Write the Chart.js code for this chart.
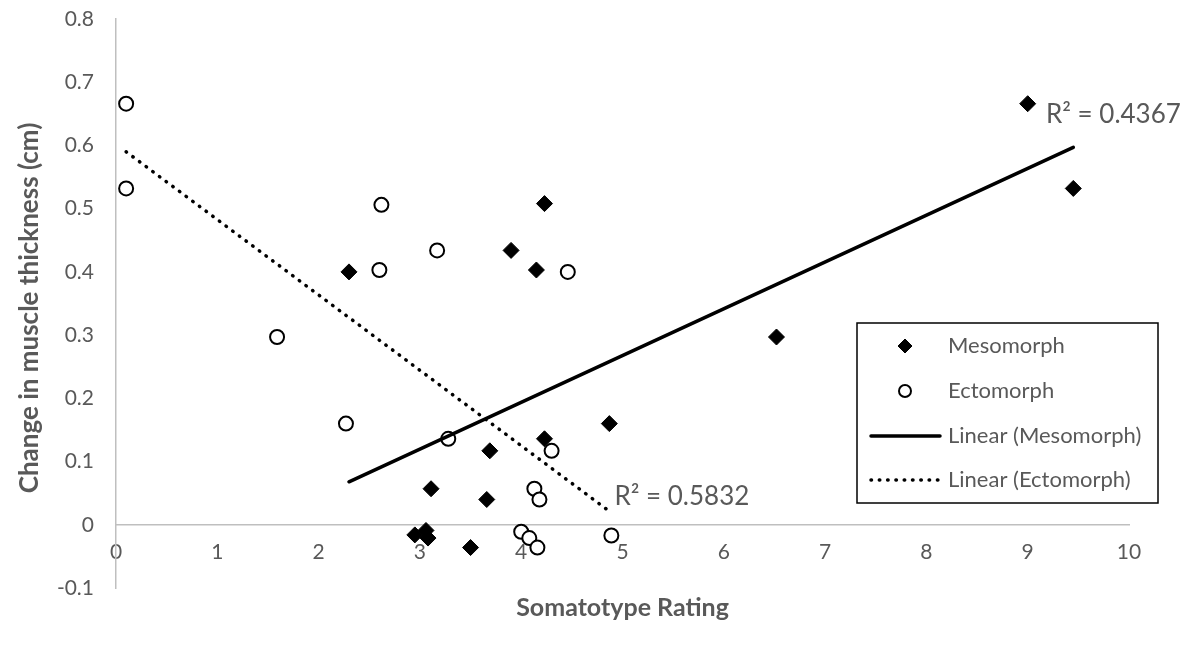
<!DOCTYPE html>
<html>
<head>
<meta charset="utf-8">
<script src="https://cdn.jsdelivr.net/npm/chart.js@4.4.1/dist/chart.umd.min.js"></script>
<style>
  html, body { margin: 0; padding: 0; background: #fff; }
  #wrap { width: 1193px; height: 646px; position: relative; }
</style>
</head>
<body>
<div id="wrap"><canvas id="chart"></canvas></div>
<script>
// values
const mesoX = [2.30, 4.23, 3.90, 4.15, 9.00, 9.45, 6.52, 4.87, 4.23, 3.69, 3.11, 3.66, 2.95, 3.06, 3.08, 3.50];
const mesoY = [0.400, 0.508, 0.434, 0.403, 0.666, 0.532, 0.297, 0.160, 0.136, 0.117, 0.057, 0.040, -0.016, -0.009, -0.021, -0.036];
const ectoX = [0.10, 0.10, 1.59, 2.27, 2.62, 2.60, 3.17, 4.46, 3.28, 4.30, 4.13, 4.18, 4.00, 4.08, 4.16, 4.89];
const ectoY = [0.666, 0.532, 0.297, 0.160, 0.506, 0.403, 0.434, 0.400, 0.136, 0.117, 0.057, 0.040, -0.011, -0.021, -0.036, -0.017];

// trendline end points (as drawn)
const mesoTrendX = [2.30, 9.45];
const mesoTrendY = [0.068, 0.597];
const ectoTrendX = [0.10, 4.89];
const ectoTrendY = [0.590, 0.019];

const seriesLabels = ["Mesomorph", "Ectomorph", "Linear (Mesomorph)", "Linear (Ectomorph)"];
const r2Labels = [
  { text: "R² = 0.4367", x: 9.18, y: 0.649 },
  { text: "R² = 0.5832", x: 4.92, y: 0.044 },
];
const xTitle = "Somatotype Rating";
const yTitle = "Change in muscle thickness (cm)";

const FONT = "Lato, 'Open Sans', sans-serif";
const GREY = "#595959";
const AXIS = "#bfbfbf";

const pts = (xs, ys) => xs.map((x, i) => ({ x, y: ys[i] }));

// titles + R² text
const textPlugin = {
  id: "texts",
  afterDatasetsDraw(chart) {
    const { ctx, chartArea } = chart;
    const sx = chart.scales.x, sy = chart.scales.y;
    ctx.save();
    ctx.fillStyle = GREY;
    ctx.textBaseline = "middle";
    ctx.font = "26px " + FONT;
    ctx.textAlign = "left";
    r2Labels.forEach((r) => {
      ctx.fillText(r.text, sx.getPixelForValue(r.x), sy.getPixelForValue(r.y));
    });

    ctx.font = "bold 25px " + FONT;
    ctx.textAlign = "center";
    ctx.fillText(xTitle, (chartArea.left + chartArea.right) / 2, 608);
    ctx.font = "bold 26px " + FONT;
    ctx.translate(30, 308);
    ctx.rotate(-Math.PI / 2);
    ctx.fillText(yTitle, 0, 0);
    ctx.restore();
  },
};

// boxed legend inside the plot, like the Excel one
const legendPlugin = {
  id: "boxLegend",
  afterDraw(chart) {
    const { ctx } = chart;
    const bx = 857, by = 323, bw = 301, bh = 180;
    const rows = [346, 391, 436, 480];
    ctx.save();
    ctx.fillStyle = "#fff";
    ctx.fillRect(bx, by, bw, bh);
    ctx.strokeStyle = "#000";
    ctx.lineWidth = 1.5;
    ctx.strokeRect(bx, by, bw, bh);

    chart.data.datasets.forEach((ds, i) => {
      const y = rows[i];
      if (ds.showLine) {
        ctx.save();
        ctx.strokeStyle = ds.borderColor;
        ctx.lineWidth = ds.borderWidth;
        ctx.lineCap = ds.borderCapStyle || "butt";
        ctx.setLineDash(ds.borderDash || []);
        ctx.beginPath();
        ctx.moveTo(871, y);
        ctx.lineTo(940, y);
        ctx.stroke();
        ctx.restore();
      } else {
        ctx.fillStyle = ds.backgroundColor;
        ctx.strokeStyle = ds.borderColor;
        ctx.lineWidth = ds.borderWidth;
        ctx.beginPath();
        const r = ds.pointRadius - 1;
        if (ds.pointStyle === "rectRot") {
          ctx.moveTo(905 - r, y); ctx.lineTo(905, y - r); ctx.lineTo(905 + r, y); ctx.lineTo(905, y + r);
          ctx.closePath();
        } else {
          ctx.arc(905, y, r, 0, Math.PI * 2);
        }
        ctx.fill();
        ctx.stroke();
      }
      ctx.fillStyle = GREY;
      ctx.font = "22px " + FONT;
      ctx.textAlign = "left";
      ctx.textBaseline = "middle";
      ctx.fillText(ds.label, 948, y);
    });
    ctx.restore();
  },
};

new Chart(document.getElementById("chart"), {
  type: "scatter",
  data: {
    datasets: [
      {
        label: seriesLabels[0],
        data: pts(mesoX, mesoY),
        pointStyle: "rectRot",
        pointRadius: 8,
        backgroundColor: "#000",
        borderColor: "#000",
        borderWidth: 1,
        order: 3,
      },
      {
        label: seriesLabels[1],
        data: pts(ectoX, ectoY),
        pointStyle: "circle",
        pointRadius: 7,
        backgroundColor: "#fff",
        borderColor: "#000",
        borderWidth: 2,
        order: 2,
      },
      {
        label: seriesLabels[2],
        data: pts(mesoTrendX, mesoTrendY),
        showLine: true,
        pointRadius: 0,
        borderColor: "#000",
        borderWidth: 3.5,
        borderCapStyle: "round",
        order: 1,
      },
      {
        label: seriesLabels[3],
        data: pts(ectoTrendX, ectoTrendY),
        showLine: true,
        pointRadius: 0,
        borderColor: "#000",
        borderWidth: 3.5,
        borderCapStyle: "round",
        borderDash: [0.5, 7.8],
        order: 0,
      },
    ],
  },
  plugins: [textPlugin, legendPlugin],
  options: {
    responsive: true,
    maintainAspectRatio: false,
    animation: false,
    layout: { padding: { left: 0, right: 64, top: 19, bottom: 58 } },
    plugins: {
      legend: { display: false },
      tooltip: { enabled: false },
    },
    scales: {
      x: {
        type: "linear",
        position: { y: 0 },
        min: 0,
        max: 10,
        afterFit: (s) => { s.height = 0; s.paddingLeft = 0; s.paddingRight = 0; },
        ticks: {
          stepSize: 1,
          padding: 15,
          color: GREY,
          font: { family: FONT, size: 21 },
        },
        grid: { display: false, drawTicks: false },
        border: { display: true, color: AXIS, width: 1.5 },
      },
      y: {
        type: "linear",
        min: -0.1,
        max: 0.8,
        afterFit: (s) => { s.width = 116; s.paddingTop = 0; s.paddingBottom = 0; },
        ticks: {
          stepSize: 0.1,
          padding: 22,
          color: GREY,
          font: { family: FONT, size: 21 },
          callback: (v) => String(Math.round(v * 10) / 10),
        },
        grid: { display: false, drawTicks: false },
        border: { display: true, color: AXIS, width: 1.5 },
      },
    },
  },
});
</script>
</body>
</html>
